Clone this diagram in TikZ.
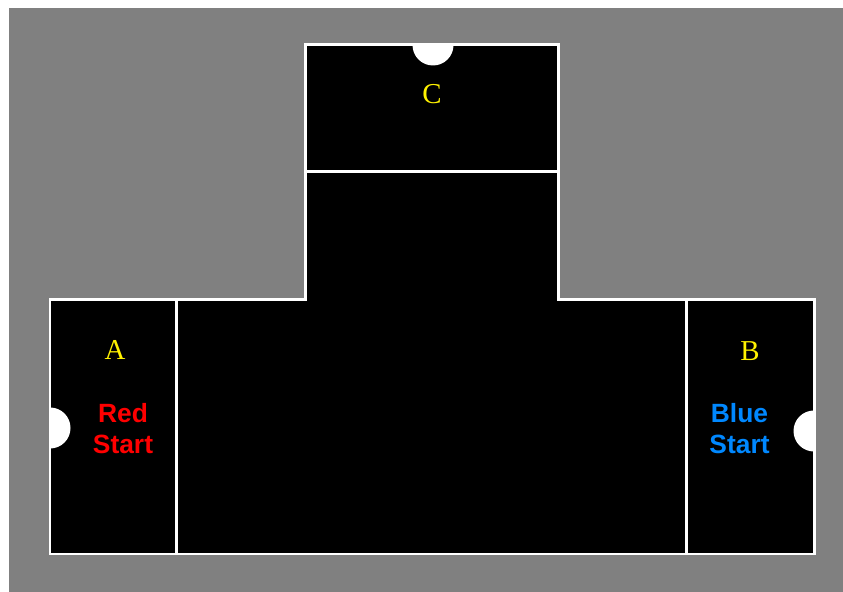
\documentclass[tikz,border=0pt]{standalone}
\usepackage{fontspec}
\setmainfont{Liberation Serif}
\setsansfont{Liberation Sans}
\usepackage{xcolor}
\definecolor{floorgray}{RGB}{128,128,128}
\definecolor{teamred}{RGB}{255,0,0}
\definecolor{teamblue}{RGB}{0,136,255}

\begin{document}
\begin{tikzpicture}[
        x=0.01cm, y=-0.01cm,
        wall/.style={draw=white,line width=0.85pt},
        goal/.style={fill=white},
        zone/.style={font=\rmfamily\fontsize{8.2}{9}\selectfont,text=yellow,anchor=base,inner sep=0pt},
        startlabel/.style={font=\sffamily\bfseries\fontsize{7.5}{8.8}\selectfont,align=center,inner sep=0pt}
    ]
        \useasboundingbox (0,0) rectangle (843,592);
        \fill[floorgray] (9,8) rectangle (843,592);

        % arena floor
        \def\arena{(50,300) -- (305,300) -- (305,45) -- (558,45) -- (558,300) -- (814,300) -- (814,554) -- (50,554) -- cycle}
        \fill[black] \arena;

        % goals
        \begin{scope}
            \clip \arena;
            \fill[goal] (433,45) circle[radius=0.205cm];
            \fill[goal] (50,428) circle[radius=0.205cm];
            \fill[goal] (814,431) circle[radius=0.205cm];
        \end{scope}

        % walls
        \draw[wall] \arena;
        \draw[wall] (305,171.5) -- (558,171.5);
        \draw[wall] (176.7,300) -- (176.7,554);
        \draw[wall] (686.7,300) -- (686.7,554);

        % labels
        \node[zone] (zoneC) at (432,104) {C};
        \node[zone] (zoneA) at (115,360) {A};
        \node[zone] (zoneB) at (750,361) {B};
        \node[startlabel, text=teamred] (redstart) at (123,428.5) {Red\\Start};
        \node[startlabel, text=teamblue] (bluestart) at (739.5,428.5) {Blue\\Start};
\end{tikzpicture}
\end{document}
